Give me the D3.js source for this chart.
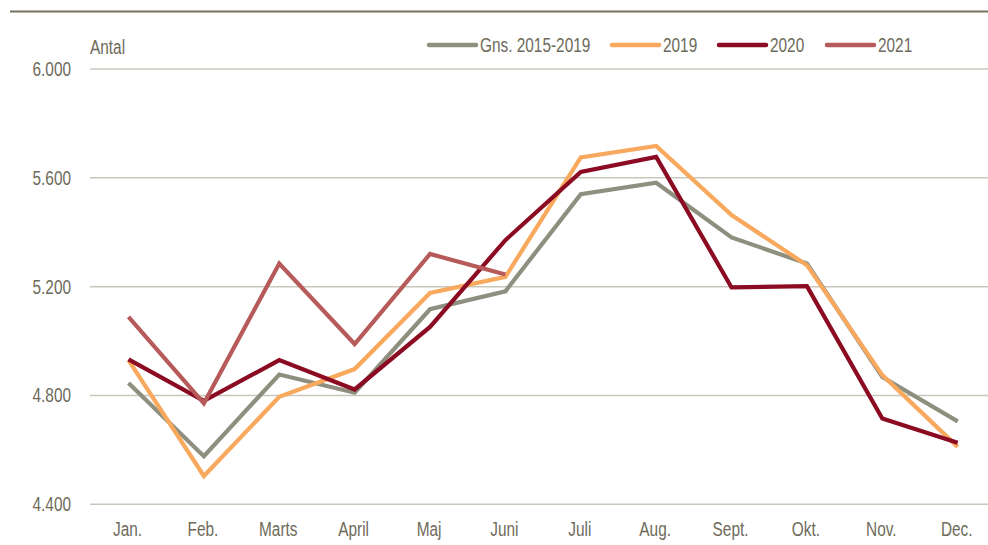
<!DOCTYPE html>
<html>
<head>
<meta charset="utf-8">
<script src="https://cdn.jsdelivr.net/npm/d3@7"></script>
<style>
  body { margin: 0; background: #fff; }
  text { font-family: "Liberation Sans", Arial, sans-serif; fill: #6e6b5b; }
</style>
</head>
<body>
<svg id="chart"></svg>
<script>
// months on the x axis
const months = ["Jan.", "Feb.", "Marts", "April", "Maj", "Juni", "Juli", "Aug.", "Sept.", "Okt.", "Nov.", "Dec."];
// y ticks
const yTicks = [4400, 4800, 5200, 5600, 6000];

// series values
const gns = [4846, 4577, 4877, 4810, 5117, 5183, 5540, 5582, 5381, 5285, 4868, 4705];
const y2019 = [4930, 4504, 4795, 4897, 5177, 5236, 5675, 5717, 5463, 5279, 4875, 4611];
const y2020 = [4933, 4780, 4930, 4822, 5052, 5371, 5622, 5677, 5197, 5202, 4715, 4626];
const y2021 = [5089, 4771, 5285, 4989, 5320, 5245];

const seriesNames = ["Gns. 2015-2019", "2019", "2020", "2021"];
const seriesColors = ["#8f8f80", "#f8a95e", "#8b0b22", "#b65a5a"];

const width = 988, height = 545;
const narrow = 0.77; //squeeze text horizontally, the original font is a narrow one
const svg = d3.select("#chart").attr("width", width).attr("height", height);

// x: point positions per month
const x = d3.scalePoint()
	.domain(months)
	.range([128.5, 957.7]);

const y = d3.scaleLinear()
	.domain([4400, 6000])
	.range([504.3, 69]);

// places a narrow text at (px, py)
function place(px, py) {
	return `translate(${px}, ${py}) scale(${narrow}, 1)`;
}

// top rule
svg.append("line")
	.attr("x1", 10).attr("x2", width)
	.attr("y1", 11.5).attr("y2", 11.5)
	.attr("stroke", "#77735f")
	.attr("stroke-width", 2);

// gridlines
svg.append("g")
	.selectAll("line")
	.data(yTicks)
	.enter()
	.append("line")
	.attr("x1", 90).attr("x2", width)
	.attr("y1", (d) => y(d)).attr("y2", (d) => y(d))
	.attr("stroke", "#c9c7bc")
	.attr("stroke-width", 1.5);

// y tick labels
const fmt = (d) => d3.format(",")(d).replace(",", ".");
svg.append("g")
	.selectAll("text")
	.data(yTicks)
	.enter()
	.append("text")
	.attr("transform", (d) => place(71, y(d) + 7))
	.attr("text-anchor", "end")
	.attr("font-size", 20)
	.text(fmt);

// x labels
svg.append("g")
	.selectAll("text")
	.data(months)
	.enter()
	.append("text")
	.attr("transform", (d) => place(x(d) - 1, 536))
	.attr("text-anchor", "middle")
	.attr("font-size", 20)
	.text((d) => d);

// axis title
svg.append("text")
	.attr("transform", place(90, 54))
	.attr("font-size", 20)
	.text("Antal");

// lines
const allSeries = [gns, y2019, y2020, y2021];
const line = d3.line()
	.x((d, i) => x(months[i]))
	.y((d) => y(d));

svg.append("g")
	.selectAll("path")
	.data(allSeries)
	.enter()
	.append("path")
	.attr("fill", "none")
	.attr("stroke", (d, i) => seriesColors[i])
	.attr("stroke-width", 4.2)
	.attr("stroke-linejoin", "miter")
	.attr("d", line);

// legend
const legendX = [429, 612, 719, 827];
const legend = svg.append("g")
	.selectAll("g")
	.data(seriesNames)
	.enter()
	.append("g")
	.attr("transform", (d, i) => `translate(${legendX[i]}, 45)`);
legend.append("line")
	.attr("x1", 0).attr("x2", 47)
	.attr("stroke", (d, i) => seriesColors[i])
	.attr("stroke-width", 4.5)
	.attr("stroke-linecap", "round");
legend.append("text")
	.attr("transform", place(51, 7))
	.attr("font-size", 20)
	.text((d) => d);
</script>
</body>
</html>
